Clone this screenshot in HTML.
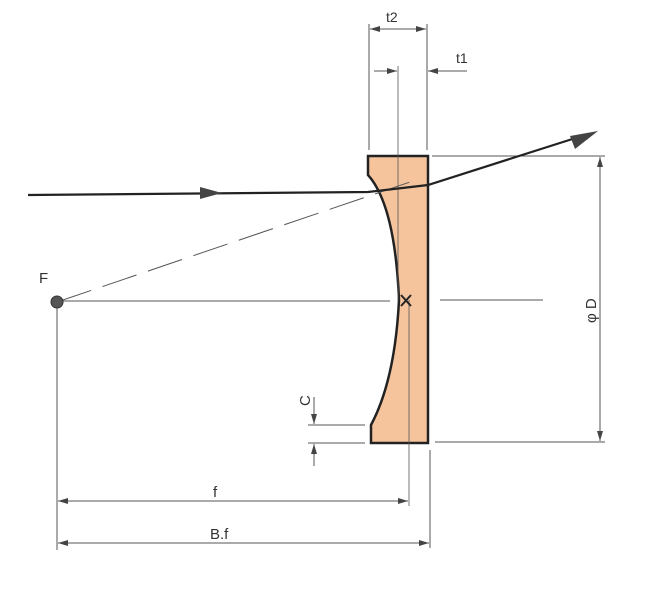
<!DOCTYPE html>
<html><head><style>body{margin:0;background:#fff}svg{display:block}text{font-family:"Liberation Sans",sans-serif;fill:#333}</style></head><body>
<svg width="662" height="589" viewBox="0 0 662 589" xmlns="http://www.w3.org/2000/svg">
<defs>
<marker id="a" markerWidth="10" markerHeight="6" refX="10" refY="3" orient="auto-start-reverse" markerUnits="userSpaceOnUse"><path d="M0,0L10,3L0,6z" fill="#444"/></marker>
</defs>
<g stroke="#555" stroke-width="1" fill="none">
<path d="M368,156 L428,156 L428,443 L371,443 L371,425 Q395,380 399,300 Q395,205 368,175 Z" fill="#f6c49c" stroke="#222" stroke-width="2.5"/>
<line x1="369" y1="24" x2="369" y2="150"/><line x1="427" y1="24" x2="427" y2="150"/>
<line x1="370" y1="29" x2="426" y2="29" marker-start="url(#a)" marker-end="url(#a)"/>
<line x1="398" y1="66" x2="398" y2="300" stroke-width="0.8"/>
<line x1="374" y1="71" x2="397" y2="71" marker-end="url(#a)"/>
<line x1="467" y1="71" x2="428" y2="71" marker-end="url(#a)"/>
<line x1="409" y1="300" x2="409" y2="506" stroke-width="0.8"/>
<line x1="57" y1="301" x2="390" y2="301"/><line x1="440" y1="300" x2="543" y2="300"/>
<line x1="57" y1="302" x2="416" y2="180" stroke-dasharray="36,12"/>
<line x1="432" y1="156" x2="605" y2="156"/><line x1="435" y1="442" x2="605" y2="442"/>
<line x1="600" y1="157" x2="600" y2="441" marker-start="url(#a)" marker-end="url(#a)"/>
<line x1="308" y1="425" x2="365" y2="425"/><line x1="308" y1="443" x2="365" y2="443"/>
<line x1="314" y1="397" x2="314" y2="424" marker-end="url(#a)"/>
<line x1="314" y1="466" x2="314" y2="444" marker-end="url(#a)"/>
<line x1="57" y1="302" x2="57" y2="550"/>
<line x1="430" y1="450" x2="430" y2="548"/>
<line x1="58" y1="501" x2="408" y2="501" marker-start="url(#a)" marker-end="url(#a)"/>
<line x1="58" y1="543" x2="429" y2="543" marker-start="url(#a)" marker-end="url(#a)"/>
</g>
<path d="M28,195 L368,192 L428,185 L585,135" stroke="#222" stroke-width="2.2" fill="none"/>
<path d="M200,187 L222,193 L200,199z" fill="#444"/>
<path d="M598,131 L575,149 L570,136z" fill="#444"/>
<path d="M401,295 L411,306 M411,295 L401,306" stroke="#222" stroke-width="2"/>
<circle cx="57" cy="302" r="6" fill="#555" stroke="#333"/>
<text x="39" y="283" font-size="15">F</text>
<text x="386" y="22" font-size="14">t2</text>
<text x="456" y="63" font-size="14">t1</text>
<text x="213" y="497" font-size="15">f</text>
<text x="210" y="539" font-size="15">B.f</text>
<text x="0" y="0" font-size="15" transform="translate(596,323) rotate(-90)">φ D</text>
<text x="0" y="0" font-size="15" transform="translate(310,406) rotate(-90)">C</text>
</svg>
</body></html>
